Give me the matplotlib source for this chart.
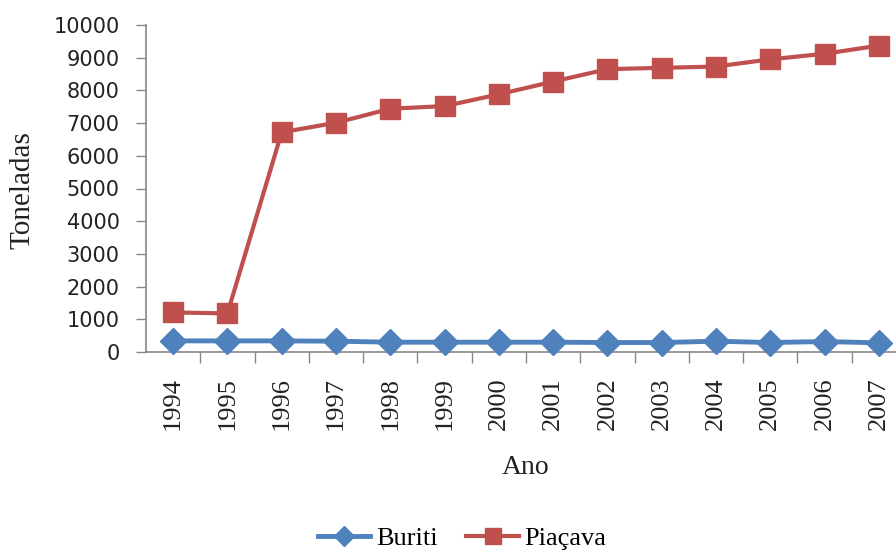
import matplotlib
matplotlib.use("Agg")
import matplotlib.pyplot as plt
from matplotlib.ticker import FixedLocator, MultipleLocator

anos = ["1994", "1995", "1996", "1997", "1998", "1999", "2000",
        "2001", "2002", "2003", "2004", "2005", "2006", "2007"]
buriti = [340, 340, 340, 330, 300, 300, 300, 300, 290, 290, 330, 290, 320, 280]
piacava = [1210, 1180, 6720, 7010, 7440, 7520, 7880,
           8270, 8650, 8690, 8730, 8950, 9120, 9370]

azul = "#4F81BD"
vermelho = "#C0504D"
cinza = "#868686"
serif = ["Liberation Serif", "DejaVu Serif"]

fig = plt.figure(figsize=(8.96, 5.5), dpi=100)
ax = fig.add_axes([146 / 896, 1 - 352 / 550, 760 / 896, 327 / 550])

x = list(range(len(anos)))
ax.plot(x, buriti, color=azul, lw=3.5, marker="D", ms=13,
        markerfacecolor=azul, markeredgecolor=azul, label="Buriti",
        clip_on=False, zorder=3)
ax.plot(x, piacava, color=vermelho, lw=3, marker="s", ms=14,
        markerfacecolor=vermelho, markeredgecolor=vermelho, label="Piaçava",
        clip_on=False, zorder=3)

ax.set_xlim(-0.5, len(anos) - 0.5)
ax.set_ylim(0, 10000)

ax.yaxis.set_major_locator(MultipleLocator(1000))
ax.tick_params(axis="y", direction="out", length=7, width=1, color=cinza,
               pad=12, labelsize=15)
for t in ax.get_yticklabels():
    t.set_family(["DejaVu Sans"])
    t.set_color("#222222")

ax.set_xticks(x)
ax.set_xticklabels(anos, rotation=90, family=serif, fontsize=19,
                   color="#222222", va="top")
ax.tick_params(axis="x", which="major", length=0, pad=18)
ax.xaxis.set_minor_locator(FixedLocator([i + 0.5 for i in x[:-1]]))
ax.tick_params(axis="x", which="minor", direction="out", length=8,
               width=1, color=cinza)

for side in ("top", "right"):
    ax.spines[side].set_visible(False)
for side in ("left", "bottom"):
    ax.spines[side].set_color(cinza)
    ax.spines[side].set_linewidth(1.2)

ax.set_xlabel("Ano", family=serif, fontsize=20, color="#222222")
ax.xaxis.set_label_coords(0.5, (352 - 467) / 327)
ax.xaxis.label.set_va("center")
ax.set_ylabel("Toneladas", family=serif, fontsize=21, color="#222222")
ax.yaxis.set_label_coords((22 - 146) / 760, 0.495)
ax.yaxis.label.set_va("center")

fig.legend(loc="center", bbox_to_anchor=(462 / 896, 1 - 538 / 550),
           ncol=2, frameon=False, prop={"family": serif, "size": 19},
           handlelength=2.0, handletextpad=0.2, columnspacing=1.1,
           markerscale=0.8)

fig.savefig("out.png", dpi=100)
